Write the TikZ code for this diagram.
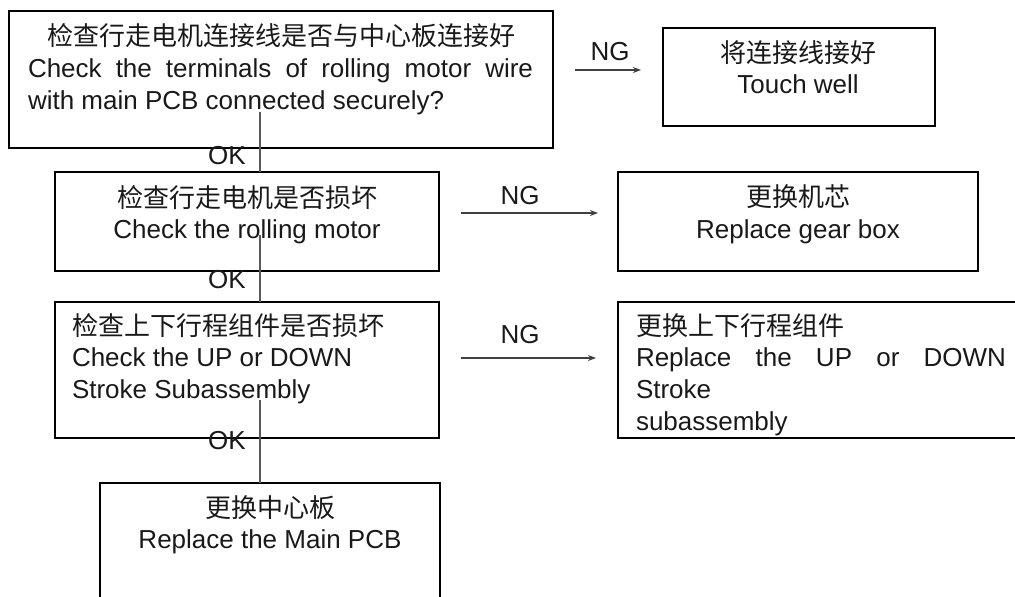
\documentclass[tikz,border=0pt]{standalone}
\usepackage{fontspec}
\setmainfont{Liberation Sans}
\newfontfamily\cjk{Noto Sans CJK SC}
\usetikzlibrary{arrows.meta}
\newcommand{\fsz}{\fontsize{26pt}{32pt}\selectfont}
\begin{document}
\begin{tikzpicture}[x=1pt,y=-1pt,
  box/.style={draw=black, line width=1.5pt, rectangle, inner sep=0pt, outer sep=0pt},
  txt/.style={anchor=base, inner sep=0pt, outer sep=0pt, font=\fsz, text=black!90},
  ltxt/.style={txt, anchor=base west},
  conn/.style={draw=black!65, line width=1.3pt},
  arr/.style={draw=black!75, line width=1.4pt, -{Stealth[length=8pt,width=6pt]}}]
\useasboundingbox (0,0) rectangle (1015,597);
% boxes
\node[box, minimum width=544pt, minimum height=137pt] (b1) at (281,79.5) {};
\node[box, minimum width=272pt, minimum height=98pt] (b1r) at (799,77) {};
\node[box, minimum width=384pt, minimum height=99pt] (b2) at (247,221.5) {};
\node[box, minimum width=360pt, minimum height=99pt] (b2r) at (798,221.5) {};
\node[box, minimum width=384pt, minimum height=136pt] (b3) at (247,370) {};
\node[box, minimum width=412pt, minimum height=136pt] (b3r) at (824,370) {};
\node[box, minimum width=340pt, minimum height=127pt] (b4) at (270,546.5) {};
% texts box 1
\node[txt] (t1a) at (281,45) {\cjk 检查行走电机连接线是否与中心板连接好};
\node[ltxt] (t1b) at (28,77) {\makebox[505pt][s]{Check the terminals of rolling motor wire}};
\node[ltxt] (t1c) at (28,109) {with main PCB connected securely?};
% touch well
\node[txt] (t1ra) at (798,62) {\cjk 将连接线接好};
\node[txt] (t1rb) at (798,93) {Touch well};
% box 2
\node[txt] (t2a) at (247,207) {\cjk 检查行走电机是否损坏};
\node[txt] (t2b) at (247,238) {Check the rolling motor};
% gear box
\node[txt] (t2ra) at (798,206) {\cjk 更换机芯};
\node[txt] (t2rb) at (798,238) {Replace gear box};
% box 3
\node[ltxt] (t3a) at (72,335) {\cjk 检查上下行程组件是否损坏};
\node[ltxt] (t3b) at (72,366) {Check the UP or DOWN};
\node[ltxt] (t3c) at (72,398) {Stroke Subassembly};
% box 3 right
\node[ltxt] (t3ra) at (636,335) {\cjk 更换上下行程组件};
\node[ltxt] (t3rb) at (636,366) {\makebox[370pt][s]{Replace the UP or DOWN}};
\node[ltxt] (t3rc) at (636,398) {Stroke};
\node[ltxt] (t3rd) at (636,430) {subassembly};
% box 4
\node[txt] (t4a) at (270,517) {\cjk 更换中心板};
\node[txt] (t4b) at (270,548) {Replace the Main PCB};
% vertical connectors
\coordinate (s1) at (260,112);
\coordinate (s2) at (260,235);
\coordinate (s3) at (260,400);
\draw[conn] (s1) -- (s1 |- b2.north);
\draw[conn] (s2) -- (s2 |- b3.north);
\draw[conn] (s3) -- (s3 |- b4.north);
% OK labels
\node[txt] (ok1) at (227,164) {OK};
\node[txt] (ok2) at (227,288) {OK};
\node[txt] (ok3) at (227,449) {OK};
% NG arrows
\coordinate (n1a) at (575,70);
\coordinate (n1b) at (641,70);
\coordinate (n2a) at (461,213);
\coordinate (n2b) at (598,213);
\coordinate (n3a) at (461,358);
\coordinate (n3b) at (596,358);
\draw[arr] (n1a) -- (n1b);
\draw[arr] (n2a) -- (n2b);
\draw[arr] (n3a) -- (n3b);
\node[txt] (ng1) at (610,60) {NG};
\node[txt] (ng2) at (520,204) {NG};
\node[txt] (ng3) at (520,343) {NG};
\end{tikzpicture}
\end{document}
